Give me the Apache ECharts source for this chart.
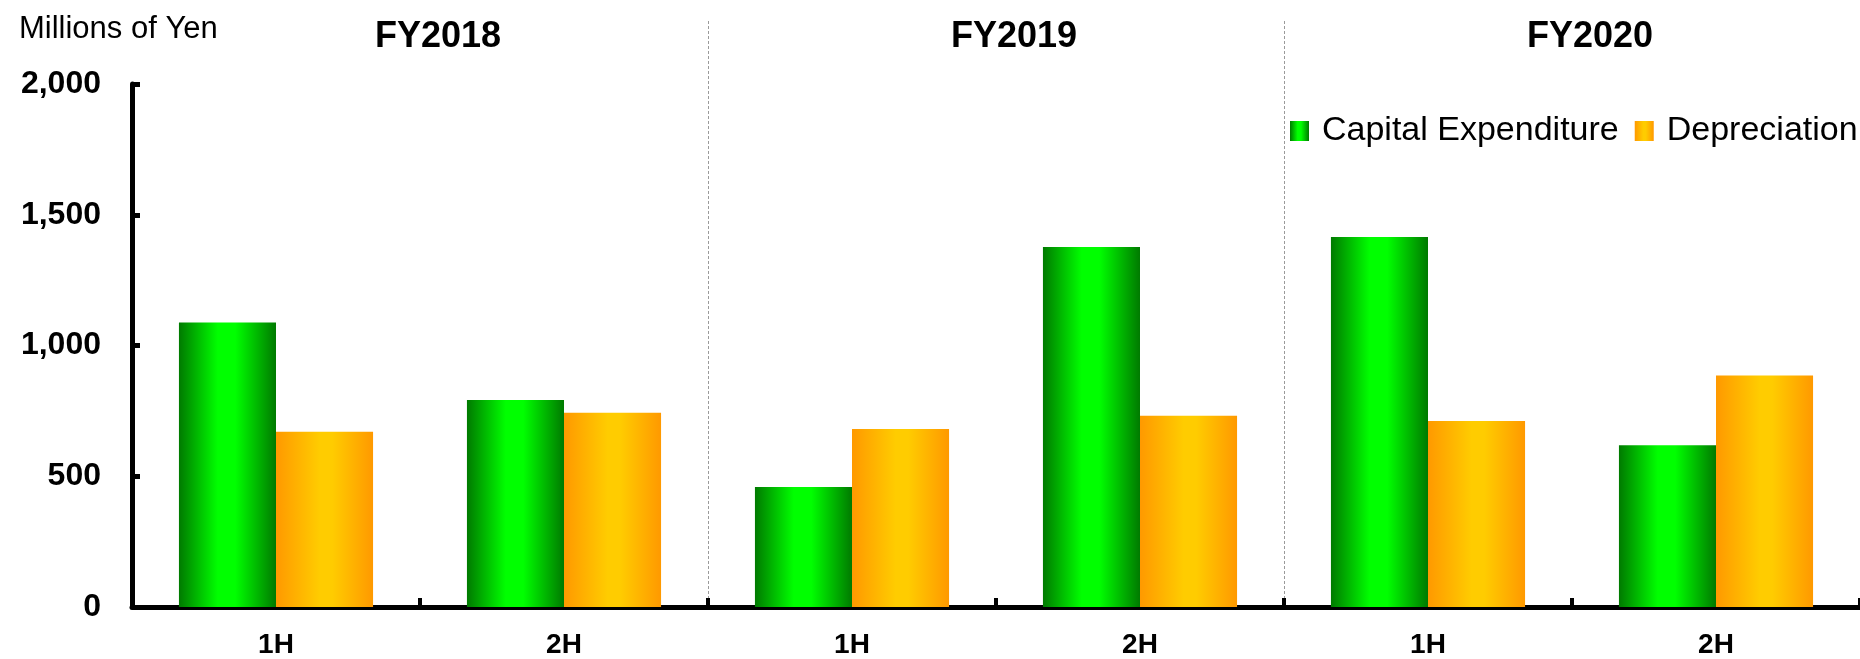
<!DOCTYPE html>
<html>
<head>
<meta charset="utf-8">
<script src="https://cdn.jsdelivr.net/npm/echarts@6/dist/echarts.min.js"></script>
<style>
html,body{margin:0;padding:0;background:#fff;}
#c{width:1860px;height:659px;}
</style>
</head>
<body>
<div id="c"></div>
<script>
// ---- data ----
var categories = ['1H', '2H', '1H', '2H', '1H', '2H'];
var fiscalYears = ['FY2018', 'FY2019', 'FY2020'];
var capex = [1088, 792, 459, 1377, 1415, 619];
var depreciation = [670, 743, 681, 731, 711, 885];
var yTicks = [0, 500, 1000, 1500, 2000];
var unitLabel = 'Millions of Yen';
var seriesNames = ['Capital Expenditure', 'Depreciation'];

// ---- layout ----
var W = 1860, gridLeft = 132, gridRight = 0, gridTop = 84, gridBottom = 52;
var catW = (W - gridLeft - gridRight) / categories.length;
var FONT = '"Liberation Sans", Arial, sans-serif';

var greenGrad = new echarts.graphic.LinearGradient(0, 0, 1, 0, [
  {offset: 0, color: '#007A00'},
  {offset: 0.4, color: '#00FF00'},
  {offset: 0.58, color: '#00FF00'},
  {offset: 1, color: '#007A00'}
]);
var orangeGrad = new echarts.graphic.LinearGradient(0, 0, 1, 0, [
  {offset: 0, color: '#FF9900'},
  {offset: 0.45, color: '#FFCC00'},
  {offset: 0.58, color: '#FFCC00'},
  {offset: 1, color: '#FF9900'}
]);

var titles = [{
  text: unitLabel, left: 19, top: 29, padding: 0,
  textAlign: 'left', textVerticalAlign: 'middle',
  textStyle: {fontFamily: FONT, fontSize: 31, fontWeight: 'normal', color: '#000'}
}];
fiscalYears.forEach(function (fy, k) {
  titles.push({
    text: fy, left: gridLeft + (2 * k + 1) * catW + 18, top: 37, padding: 0,
    textAlign: 'center', textVerticalAlign: 'middle',
    textStyle: {fontFamily: FONT, fontSize: 36, fontWeight: 'bold', color: '#000'}
  });
});

var chart = echarts.init(document.getElementById('c'), null, {renderer: 'canvas'});
chart.setOption({
  animation: false,
  backgroundColor: '#fff',
  title: titles,
  legend: {
    left: 1290, top: 114, padding: 0,
    itemWidth: 19, itemHeight: 20, itemGap: 16,
    icon: 'rect',
    textStyle: {fontFamily: FONT, fontSize: 34, color: '#000', padding: [0, 0, 0, 8]},
    data: seriesNames
  },
  grid: [
    {left: gridLeft, right: gridRight, top: gridTop, bottom: gridBottom, containLabel: false},
    {left: gridLeft, right: gridRight, top: 21, bottom: gridBottom, containLabel: false}
  ],
  xAxis: [{
    type: 'category', gridIndex: 0, data: categories,
    axisLine: {lineStyle: {color: '#000', width: 5}},
    axisTick: {show: true, inside: true, length: 9, lineStyle: {color: '#000', width: 4}},
    axisLabel: {fontFamily: FONT, fontSize: 28, fontWeight: 'bold', color: '#000', margin: 24},
    splitLine: {show: false}
  }, {
    type: 'category', gridIndex: 1, data: categories,
    axisLine: {show: false}, axisTick: {show: false}, axisLabel: {show: false},
    splitLine: {
      show: true,
      interval: function (i) { return i === 2 || i === 4; },
      lineStyle: {color: '#9a9a9a', width: 1, type: [3, 2]}
    }
  }],
  yAxis: [{
    type: 'value', gridIndex: 0, min: yTicks[0], max: yTicks[yTicks.length - 1], interval: 500,
    axisLine: {show: true, lineStyle: {color: '#000', width: 5}},
    axisTick: {show: true, inside: true, length: 8, lineStyle: {color: '#000', width: 5}},
    axisLabel: {
      fontFamily: FONT, fontSize: 32, fontWeight: 'bold', color: '#000', margin: 31,
      formatter: function (v) { return v.toLocaleString('en-US'); }
    },
    splitLine: {show: false}
  }, {
    type: 'value', gridIndex: 1, show: false, min: 0, max: 1
  }],
  series: [{
    name: seriesNames[0], type: 'bar', xAxisIndex: 0, yAxisIndex: 0,
    data: capex, barGap: '0%', barCategoryGap: '32.6%',
    itemStyle: {color: greenGrad}
  }, {
    name: seriesNames[1], type: 'bar', xAxisIndex: 0, yAxisIndex: 0,
    data: depreciation, barGap: '0%', barCategoryGap: '32.6%',
    itemStyle: {color: orangeGrad}
  }]
});
</script>
</body>
</html>
